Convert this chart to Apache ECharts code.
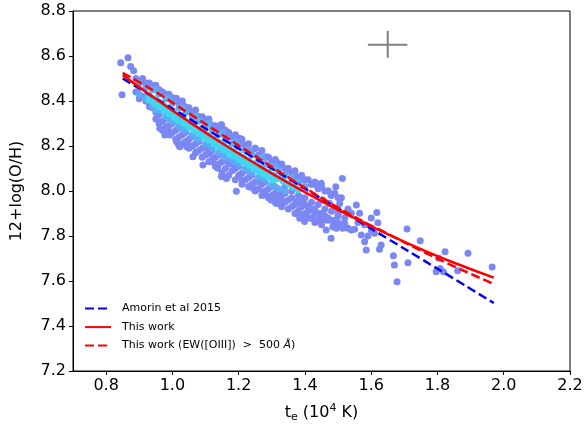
<!DOCTYPE html>
<html><head><meta charset="utf-8">
<script src="https://cdn.jsdelivr.net/npm/echarts/dist/echarts.min.js"></script>
<style>html,body{margin:0;padding:0;background:#fff}#c{width:585px;height:429px}</style>
</head><body><div id="c"></div>
<script>
// ---- data ----
const xTicks = [0.8,1.0,1.2,1.4,1.6,1.8,2.0,2.2];
const yTicks = [7.2,7.4,7.6,7.8,8.0,8.2,8.4,8.6,8.8];

const lineX     = [0.85,0.95,1.05,1.15,1.25,1.35,1.45,1.55,1.65,1.75,1.85,1.97];
const amorin    = [8.50,8.411,8.322,8.233,8.144,8.055,7.966,7.877,7.788,7.699,7.610,7.502];
const thisWork  = [8.515,8.409,8.308,8.212,8.122,8.036,7.955,7.879,7.808,7.742,7.681,7.615];
const thisWorkEW= [8.525,8.44,8.345,8.25,8.155,8.06,7.97,7.885,7.81,7.735,7.665,7.587];

const errH = [[1.590,8.65],[1.709,8.65]];
const errV = [[1.65,8.592],[1.65,8.712]];

// individually read (sparser) points
const outerPts = [
[0.844,8.570],[0.866,8.592],[0.874,8.553],[0.883,8.534],[0.848,8.428],[0.90,8.49],[0.91,8.50],[0.93,8.48],[0.936,8.471],[0.95,8.46],
[0.931,8.375],[0.962,8.434],[0.982,8.419],[1.000,8.415],[1.012,8.412],[1.032,8.382],[1.045,8.37],[1.057,8.352],[1.077,8.330],[1.092,8.323],
[1.102,8.308],[1.112,8.301],[1.143,8.286],[1.148,8.296],[1.160,8.27],[1.173,8.241],[1.19,8.25],[1.203,8.234],[1.218,8.204],[1.233,8.182],
[1.25,8.19],[1.263,8.160],[1.283,8.152],[1.314,8.130],[1.344,8.093],[1.364,8.064],[1.369,8.071],[1.389,8.064],[1.394,8.049],[1.42,8.03],
[1.434,8.027],[1.449,8.034],[1.47,8.00],[1.479,7.982],[1.493,8.019],[1.513,8.056],
[0.962,8.308],[0.962,8.279],[0.982,8.286],[0.977,8.249],[0.992,8.249],[1.012,8.219],[1.019,8.204],[1.022,8.197],[1.043,8.197],[1.047,8.204],
[1.062,8.152],[1.072,8.175],[1.092,8.116],[1.107,8.182],[1.112,8.167],[1.122,8.130],[1.137,8.101],[1.148,8.064],[1.163,8.056],[1.193,7.999],
[1.211,8.049],[1.233,8.019],[1.243,8.012],[1.273,7.990],[1.283,7.982],[1.298,7.960],[1.306,7.982],[1.314,7.945],[1.318,7.969],[1.334,7.952],
[1.374,7.952],[1.384,7.975],[1.369,7.938],[1.392,7.952],[1.384,7.879],[1.399,7.864],[1.419,7.879],[1.439,7.871],[1.459,7.871],[1.464,7.827],
[1.484,7.841],[1.495,7.834],[1.514,7.834],[1.479,7.790],[1.520,7.856],[1.530,7.834],[1.540,7.827],[1.454,7.960],[1.474,7.945],[1.505,7.945],
[1.499,7.923],[1.555,7.938],[1.540,7.901],[1.565,7.901],[1.617,7.905],[1.620,7.859],[1.600,7.827],[1.610,7.812],[1.570,7.804],[1.580,7.775],
[1.585,7.738],[1.630,7.760],[1.625,7.741],[1.708,7.831],[1.748,7.779],[1.678,7.597],[1.670,7.671],[1.667,7.712],[1.711,7.681],[1.804,7.701],
[1.808,7.656],[1.818,7.641],[1.823,7.730],[1.861,7.646],[1.796,7.641],[1.892,7.723],[1.965,7.662],
[1.43,7.92],[1.45,7.90],[1.41,7.93],[1.47,7.88],[1.49,7.87],[1.52,7.88],[1.50,7.90],[1.53,7.92],[1.56,7.86],[1.58,7.85],[1.60,7.88],[1.59,7.80],[1.55,7.83]
];

// body of the cloud (estimated columns)
const outerBand = [
[0.89,8.50],[0.89,8.44],[0.91,8.49],[0.91,8.42],[0.93,8.47],[0.93,8.39],[0.95,8.47],[0.95,8.35],[0.95,8.32],
[0.97,8.44],[0.97,8.31],[0.97,8.27],[0.99,8.43],[0.99,8.29],[0.99,8.26],[1.01,8.41],[1.01,8.27],[1.01,8.23],
[1.03,8.40],[1.03,8.25],[1.03,8.21],[1.05,8.37],[1.05,8.23],[1.05,8.19],[1.07,8.36],[1.07,8.21],[1.07,8.17],
[1.09,8.33],[1.09,8.19],[1.09,8.15],[1.11,8.32],[1.11,8.17],[1.11,8.13],[1.13,8.29],[1.13,8.15],[1.13,8.11],
[1.15,8.28],[1.15,8.13],[1.15,8.08],[1.17,8.26],[1.17,8.12],[1.17,8.07],[1.19,8.24],[1.19,8.10],[1.19,8.05],
[1.21,8.23],[1.21,8.08],[1.21,8.03],[1.23,8.21],[1.23,8.06],[1.23,8.02],[1.25,8.19],[1.25,8.04],[1.25,8.00],
[1.27,8.18],[1.27,8.03],[1.27,7.98],[1.29,8.15],[1.29,8.01],[1.29,7.97],[1.31,8.14],[1.31,7.99],[1.31,7.95],
[1.33,8.12],[1.33,7.98],[1.33,7.93],[1.35,8.10],[1.35,7.96],[1.35,7.92],[1.37,8.09],[1.37,7.94],[1.37,7.90],
[1.39,8.07],[1.39,7.93],[1.39,7.89],[1.41,8.05],[1.41,7.91],[1.41,7.88],[1.43,8.04],[1.43,7.90],[1.43,7.86],
[1.45,8.02],[1.45,7.89],[1.45,7.85],[1.47,8.00],[1.47,7.87],[1.49,7.99],[1.49,7.86],[1.51,7.97],[1.51,7.85],
[0.90,8.48],[0.90,8.41],[0.92,8.48],[0.92,8.40],[0.94,8.46],[0.94,8.37],[0.96,8.45],[0.96,8.34],[0.96,8.30],
[0.98,8.43],[0.98,8.32],[0.98,8.28],[1.00,8.41],[1.00,8.30],[1.00,8.26],[1.02,8.39],[1.02,8.28],[1.02,8.24],
[1.04,8.37],[1.04,8.26],[1.04,8.22],[1.06,8.35],[1.06,8.24],[1.06,8.20],[1.08,8.33],[1.08,8.22],[1.08,8.18],
[1.10,8.31],[1.10,8.20],[1.10,8.16],[1.12,8.29],[1.12,8.18],[1.12,8.14],[1.14,8.27],[1.14,8.16],[1.14,8.12],
[1.16,8.25],[1.16,8.14],[1.16,8.10],[1.18,8.24],[1.18,8.12],[1.18,8.09],[1.20,8.22],[1.20,8.11],[1.20,8.07],
[1.22,8.20],[1.22,8.09],[1.22,8.05],[1.24,8.18],[1.24,8.07],[1.24,8.03],[1.26,8.16],[1.26,8.05],[1.26,8.01],
[1.28,8.15],[1.28,8.04],[1.28,8.00],[1.30,8.13],[1.30,8.02],[1.30,7.98],[1.32,8.11],[1.32,8.00],[1.32,7.96],
[1.34,8.10],[1.34,7.99],[1.34,7.95],[1.34,8.02],[1.36,8.08],[1.36,7.97],[1.36,7.93],[1.36,8.00],
[1.38,8.06],[1.38,7.95],[1.38,7.91],[1.38,7.98],[1.40,8.05],[1.40,7.94],[1.40,7.90],[1.40,7.97],
[1.42,8.03],[1.42,7.92],[1.42,7.88],[1.42,7.95],[1.44,8.01],[1.44,7.90],[1.44,7.87],[1.44,7.94],
[1.46,8.00],[1.46,7.89],[1.46,7.92],[1.48,7.98],[1.48,7.87],[1.48,7.91],[1.50,7.97],[1.50,7.86],[1.50,7.89]
];

const midPts = [
[0.90,8.48],[0.90,8.43],[0.92,8.46],[0.92,8.41],[0.94,8.45],[0.94,8.38],[0.96,8.43],[0.96,8.36],[0.98,8.41],[0.98,8.33],
[1.00,8.39],[1.00,8.31],[1.02,8.37],[1.02,8.29],[1.04,8.35],[1.04,8.27],[1.06,8.33],[1.06,8.25],[1.08,8.31],[1.08,8.23],
[1.10,8.29],[1.10,8.21],[1.12,8.27],[1.12,8.19],[1.14,8.25],[1.14,8.17],[1.16,8.23],[1.16,8.15],[1.18,8.21],[1.18,8.14],
[1.20,8.20],[1.20,8.12],[1.22,8.18],[1.22,8.10],[1.24,8.16],[1.24,8.08],[1.26,8.14],[1.26,8.06],[1.28,8.12],[1.28,8.05],
[1.30,8.11],[1.30,8.03],[1.32,8.09],[1.32,8.01],[1.34,8.07],[1.34,8.00],[1.36,8.06],[1.38,8.04],[1.40,8.02],
[0.95,8.45],[0.95,8.36],[0.99,8.41],[0.99,8.32],[1.03,8.37],[1.03,8.28],[1.07,8.33],[1.07,8.24],[1.11,8.30],[1.11,8.21],
[1.15,8.26],[1.15,8.17],[1.19,8.22],[1.19,8.13],[1.23,8.18],[1.23,8.09],[1.27,8.15],[1.27,8.06],[1.31,8.11],[1.31,8.02]
];

const corePts = [
[0.93,8.425],[0.93,8.405],[0.945,8.41],[0.945,8.39],[0.96,8.393],[0.96,8.373],[0.975,8.378],[0.975,8.358],[0.99,8.363],[0.99,8.343],
[1.005,8.347],[1.005,8.327],[1.02,8.333],[1.02,8.313],[1.035,8.318],[1.035,8.298],[1.05,8.303],[1.05,8.283],[1.065,8.289],[1.065,8.269],
[1.08,8.274],[1.08,8.254],[1.095,8.26],[1.095,8.24],[1.11,8.246],[1.11,8.226],[1.125,8.231],[1.125,8.211],[1.14,8.217],[1.14,8.197],
[1.155,8.203],[1.155,8.183],[1.17,8.189],[1.17,8.169],[1.185,8.176],[1.185,8.156],[1.20,8.161],[1.20,8.141],[1.215,8.148],[1.215,8.128],
[1.23,8.134],[1.23,8.114],[1.245,8.121],[1.245,8.101],[1.26,8.108],[1.26,8.088],[1.275,8.095],[1.275,8.075],[1.29,8.082],[1.29,8.062],
[1.305,8.069],[1.305,8.049],[1.32,8.056],[1.335,8.043],[1.35,8.031],[1.365,8.018],[1.38,8.006]
];

const legendNames = ['Amorin et al 2015','This work','This work (EW([OIII])  >  500 Å)'];

// ---- chart ----
const chart = echarts.init(document.getElementById('c'), null, {renderer:'canvas'});
const FONT = 'DejaVu Sans';
const zip = (xs, ys) => xs.map((x,i)=>[x, ys[i]]);

chart.setOption({
  animation:false,
  backgroundColor:'#fff',
  textStyle:{fontFamily:FONT},
  grid:{left:73, right:15, top:11, bottom:58, show:true, borderColor:'#000', borderWidth:1,
        containLabel:false, outerBoundsMode:'none'},
  xAxis:{
    type:'value', min:0.7, max:2.2,
    name:'{a|t}{s|e}{a| (10}{p|4}{a| K)}',
    nameLocation:'middle', nameGap:32,
    nameTextStyle:{rich:{
      a:{fontSize:16, fontFamily:FONT, color:'#000'},
      s:{fontSize:11, fontFamily:FONT, color:'#000', padding:[9,0,0,0]},
      p:{fontSize:11, fontFamily:FONT, color:'#000', padding:[0,0,9,0]}
    }},
    axisLine:{show:true, lineStyle:{color:'#000', width:1}},
    axisTick:{show:true, inside:false, length:4, lineStyle:{color:'#000'}, customValues:xTicks},
    axisLabel:{fontSize:16, color:'#000', fontFamily:FONT, margin:7, customValues:xTicks, formatter:v=>v.toFixed(1)},
    splitLine:{show:false}
  },
  yAxis:{
    type:'value', min:7.2, max:8.8,
    name:'12+log(O/H)', nameLocation:'middle', nameGap:48,
    nameTextStyle:{fontSize:16, color:'#000', fontFamily:FONT},
    axisLine:{show:true, lineStyle:{color:'#000', width:1}},
    axisTick:{show:true, inside:false, length:4, lineStyle:{color:'#000'}, customValues:yTicks},
    axisLabel:{fontSize:16, color:'#000', fontFamily:FONT, margin:7, customValues:yTicks, formatter:v=>v.toFixed(1)},
    splitLine:{show:false}
  },
  legend:{
    data:legendNames,
    orient:'vertical', left:79, top:298,
    itemWidth:26, itemHeight:14, itemGap:7.3,
    itemStyle:{opacity:0},
    textStyle:{fontSize:11, color:'#000', fontFamily:FONT, padding:[0,0,0,6],
      rich:{i:{fontSize:11, fontStyle:'italic', color:'#000', fontFamily:FONT}}},
    formatter: n => n.replace('Å', '{i|Å}')
  },
  series:[
    {type:'scatter', data:outerBand, symbolSize:7, itemStyle:{color:'#7b87f3', opacity:1}, silent:true},
    {type:'scatter', data:outerPts, symbolSize:7, itemStyle:{color:'#7b87f3', opacity:1}, silent:true},
    {type:'scatter', data:midPts, symbolSize:7, itemStyle:{color:'#5cabf4', opacity:1}, silent:true},
    {type:'scatter', data:corePts, symbolSize:7, itemStyle:{color:'#3fd8ef', opacity:1}, silent:true},
    {type:'line', data:errH, symbol:'none', lineStyle:{color:'#808080', width:2}, silent:true},
    {type:'line', data:errV, symbol:'none', lineStyle:{color:'#808080', width:2}, silent:true},
    {name:legendNames[0], type:'line', data:zip(lineX, amorin), symbol:'none', smooth:true,
      lineStyle:{color:'#0000ff', width:2.5, type:[9,4]}, itemStyle:{color:'#0000ff'}},
    {name:legendNames[1], type:'line', data:zip(lineX, thisWork), symbol:'none', smooth:true,
      lineStyle:{color:'#ff0000', width:2.5}, itemStyle:{color:'#ff0000'}},
    {name:legendNames[2], type:'line', data:zip(lineX, thisWorkEW), symbol:'none', smooth:true,
      lineStyle:{color:'#ff0000', width:2.5, type:[9,4]}, itemStyle:{color:'#ff0000'}}
  ]
});
</script></body></html>
